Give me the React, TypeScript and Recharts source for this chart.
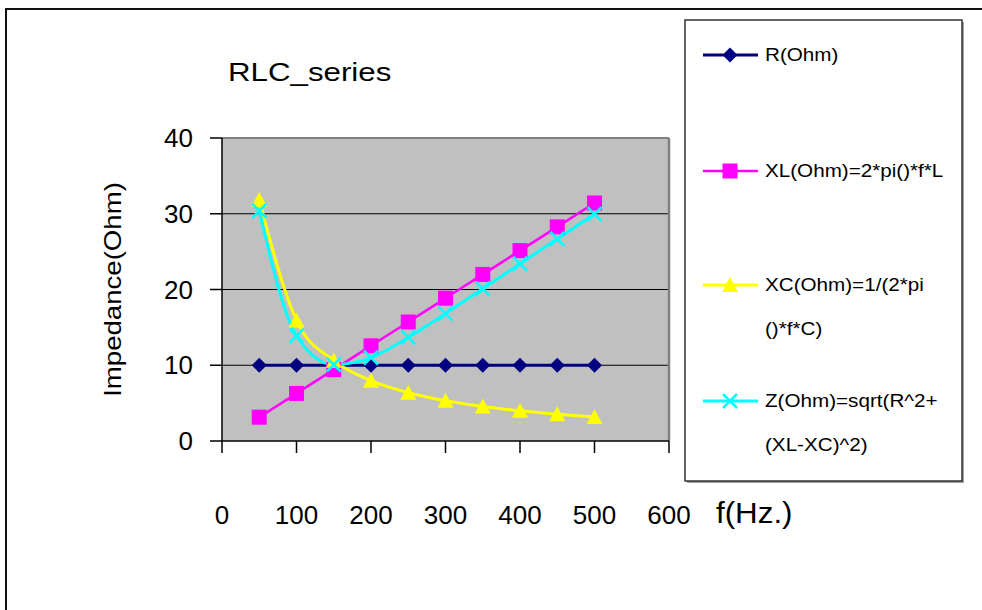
import { CartesianGrid, Label, Legend, Line, LineChart, ReferenceLine, XAxis, YAxis } from "recharts";

const FONT = '"Liberation Sans", Arial, Helvetica, sans-serif';

// frequency (Hz) and impedances (Ohm)
const freq = [50, 100, 150, 200, 250, 300, 350, 400, 450, 500];
const rOhm = [10, 10, 10, 10, 10, 10, 10, 10, 10, 10];
const xlOhm = [3.14, 6.28, 9.42, 12.57, 15.71, 18.85, 21.99, 25.13, 28.27, 31.42];
const xcOhm = [31.83, 15.92, 10.61, 7.96, 6.37, 5.31, 4.55, 3.98, 3.54, 3.18];
const zOhm = [30.38, 13.89, 10.07, 11.01, 13.68, 16.83, 20.1, 23.4, 26.68, 29.96];

const xTicks = [0, 100, 200, 300, 400, 500, 600];
const yTicks = [0, 10, 20, 30, 40];

const legendLabels = [
  ["R(Ohm)"],
  ["XL(Ohm)=2*pi()*f*L"],
  ["XC(Ohm)=1/(2*pi", "()*f*C)"],
  ["Z(Ohm)=sqrt(R^2+", "(XL-XC)^2)"],
];

const colors = { r: "#000080", xl: "#FF00FF", xc: "#FFFF00", z: "#00FFFF" };

const data = freq.map((f, i) => ({ f, r: rOhm[i], xl: xlOhm[i], xc: xcOhm[i], z: zOhm[i] }));

type Shape = "diamond" | "square" | "triangle" | "cross";

const marker = (shape: Shape, cx: number, cy: number, color: string, key?: any) => {
  if (shape === "diamond")
    return <path key={key} d={`M${cx} ${cy - 7.5}L${cx + 7.5} ${cy}L${cx} ${cy + 7.5}L${cx - 7.5} ${cy}Z`} fill={color} />;
  if (shape === "square")
    return <rect key={key} x={cx - 7.5} y={cy - 7.5} width={15} height={15} fill={color} />;
  if (shape === "triangle")
    return <path key={key} d={`M${cx} ${cy - 8}L${cx + 8} ${cy + 7}L${cx - 8} ${cy + 7}Z`} fill={color} />;
  return (
    <path key={key} d={`M${cx - 7} ${cy - 7}L${cx + 7} ${cy + 7}M${cx + 7} ${cy - 7}L${cx - 7} ${cy + 7}`}
      stroke={color} strokeWidth={2.5} fill="none" />
  );
};

const dotOf = (shape: Shape, color: string) => (p: any) => marker(shape, p.cx, p.cy, color, p.key ?? `${shape}-${p.index}`);

const seriesShapes: { key: keyof typeof colors; shape: Shape; width: number }[] = [
  { key: "r", shape: "diamond", width: 3 },
  { key: "xl", shape: "square", width: 2.5 },
  { key: "xc", shape: "triangle", width: 3 },
  { key: "z", shape: "cross", width: 3 },
];

const legendRows = [36, 152, 266, 382];

const LegendBox = () => (
  <svg width={282} height={466} style={{ display: "block" }}>
    <rect x={3} y={3} width={277} height={461} fill="#a0a0a0" />
    <rect x={1} y={1} width={277} height={461} fill="#fff" stroke="#333" strokeWidth={1.5} />
    {seriesShapes.map((s, i) => {
      const y = legendRows[i];
      return (
        <g key={s.key}>
          <line x1={19} x2={74} y1={y} y2={y} stroke={colors[s.key]} strokeWidth={s.width} />
          {marker(s.shape, 46, y, colors[s.key])}
          {legendLabels[i].map((t, j) => (
            <text key={j} transform={`translate(81 ${y + j * 44}) scale(1.18 1)`} dominantBaseline="central"
              fontFamily={FONT} fontSize={17.5} fill="#000">{t}</text>
          ))}
        </g>
      );
    })}
  </svg>
);

const YTitle = (props: any) => {
  const vb = props.viewBox;
  return (
    <text transform={`translate(${vb.x - 9} ${vb.y + vb.height / 2}) rotate(-90) scale(1.2 1)`}
      textAnchor="middle" dominantBaseline="central" fontFamily={FONT} fontSize={23} fill="#000">
      Impedance(Ohm)
    </text>
  );
};

const XTitle = (props: any) => {
  const vb = props.viewBox;
  return (
    <text transform={`translate(${vb.x + vb.width + 47} ${vb.y + 72}) scale(1.08 1)`}
      dominantBaseline="central" fontFamily={FONT} fontSize={29} fill="#000">
      f(Hz.)
    </text>
  );
};

export default function App() {
  return (
    <div style={{ position: "absolute", left: 0, top: 0, width: 982, height: 610, background: "#fff", overflow: "hidden" }}>
      <div style={{ position: "absolute", left: 5, top: 8, right: -4, bottom: -4, borderTop: "2px solid #111", borderLeft: "2px solid #111" }} />
      <div style={{ position: "absolute", left: 228, top: 57, fontFamily: FONT, fontSize: 25, lineHeight: "30px", transform: "scaleX(1.25)", transformOrigin: "left center", color: "#000" }}>
        RLC_series
      </div>
      <div style={{ position: "absolute", left: 0, top: 0 }}>
        <LineChart width={982} height={610} data={data} margin={{ top: 138, right: 313, left: 122, bottom: 69 }}>
          <CartesianGrid horizontal vertical={false} horizontalValues={[10, 20, 30]} stroke="#000" strokeWidth={1.2} fill="#C0C0C0" fillOpacity={1} />
          <XAxis dataKey="f" type="number" domain={[0, 600]} ticks={xTicks} height={100}
            axisLine={{ stroke: "#000", strokeWidth: 1.5 }} tickLine={{ stroke: "#000", strokeWidth: 1.5 }}
            tickSize={12} tickMargin={53} tick={{ fontSize: 26, fill: "#000", fontFamily: FONT }}>
            <Label content={<XTitle />} />
          </XAxis>
          <YAxis type="number" domain={[0, 40]} ticks={yTicks} width={100}
            axisLine={{ stroke: "#000", strokeWidth: 1.5 }} tickLine={{ stroke: "#000", strokeWidth: 1.5 }}
            tickSize={12} tickMargin={17} tick={{ fontSize: 26, fill: "#000", fontFamily: FONT }}>
            <Label content={<YTitle />} />
          </YAxis>
          <ReferenceLine y={40} stroke="#808080" strokeWidth={2} />
          <ReferenceLine x={600} stroke="#808080" strokeWidth={2.5} />
          {seriesShapes.map((s) => (
            <Line key={s.key} dataKey={s.key} type="monotone" stroke={colors[s.key]} strokeWidth={s.width}
              dot={dotOf(s.shape, colors[s.key])} activeDot={false} isAnimationActive={false} />
          ))}
          <Legend layout="horizontal" verticalAlign="middle" align="center" content={() => <LegendBox />}
            wrapperStyle={{ left: 684, top: 19, width: 282, height: 466 }} />
        </LineChart>
      </div>
    </div>
  );
}
